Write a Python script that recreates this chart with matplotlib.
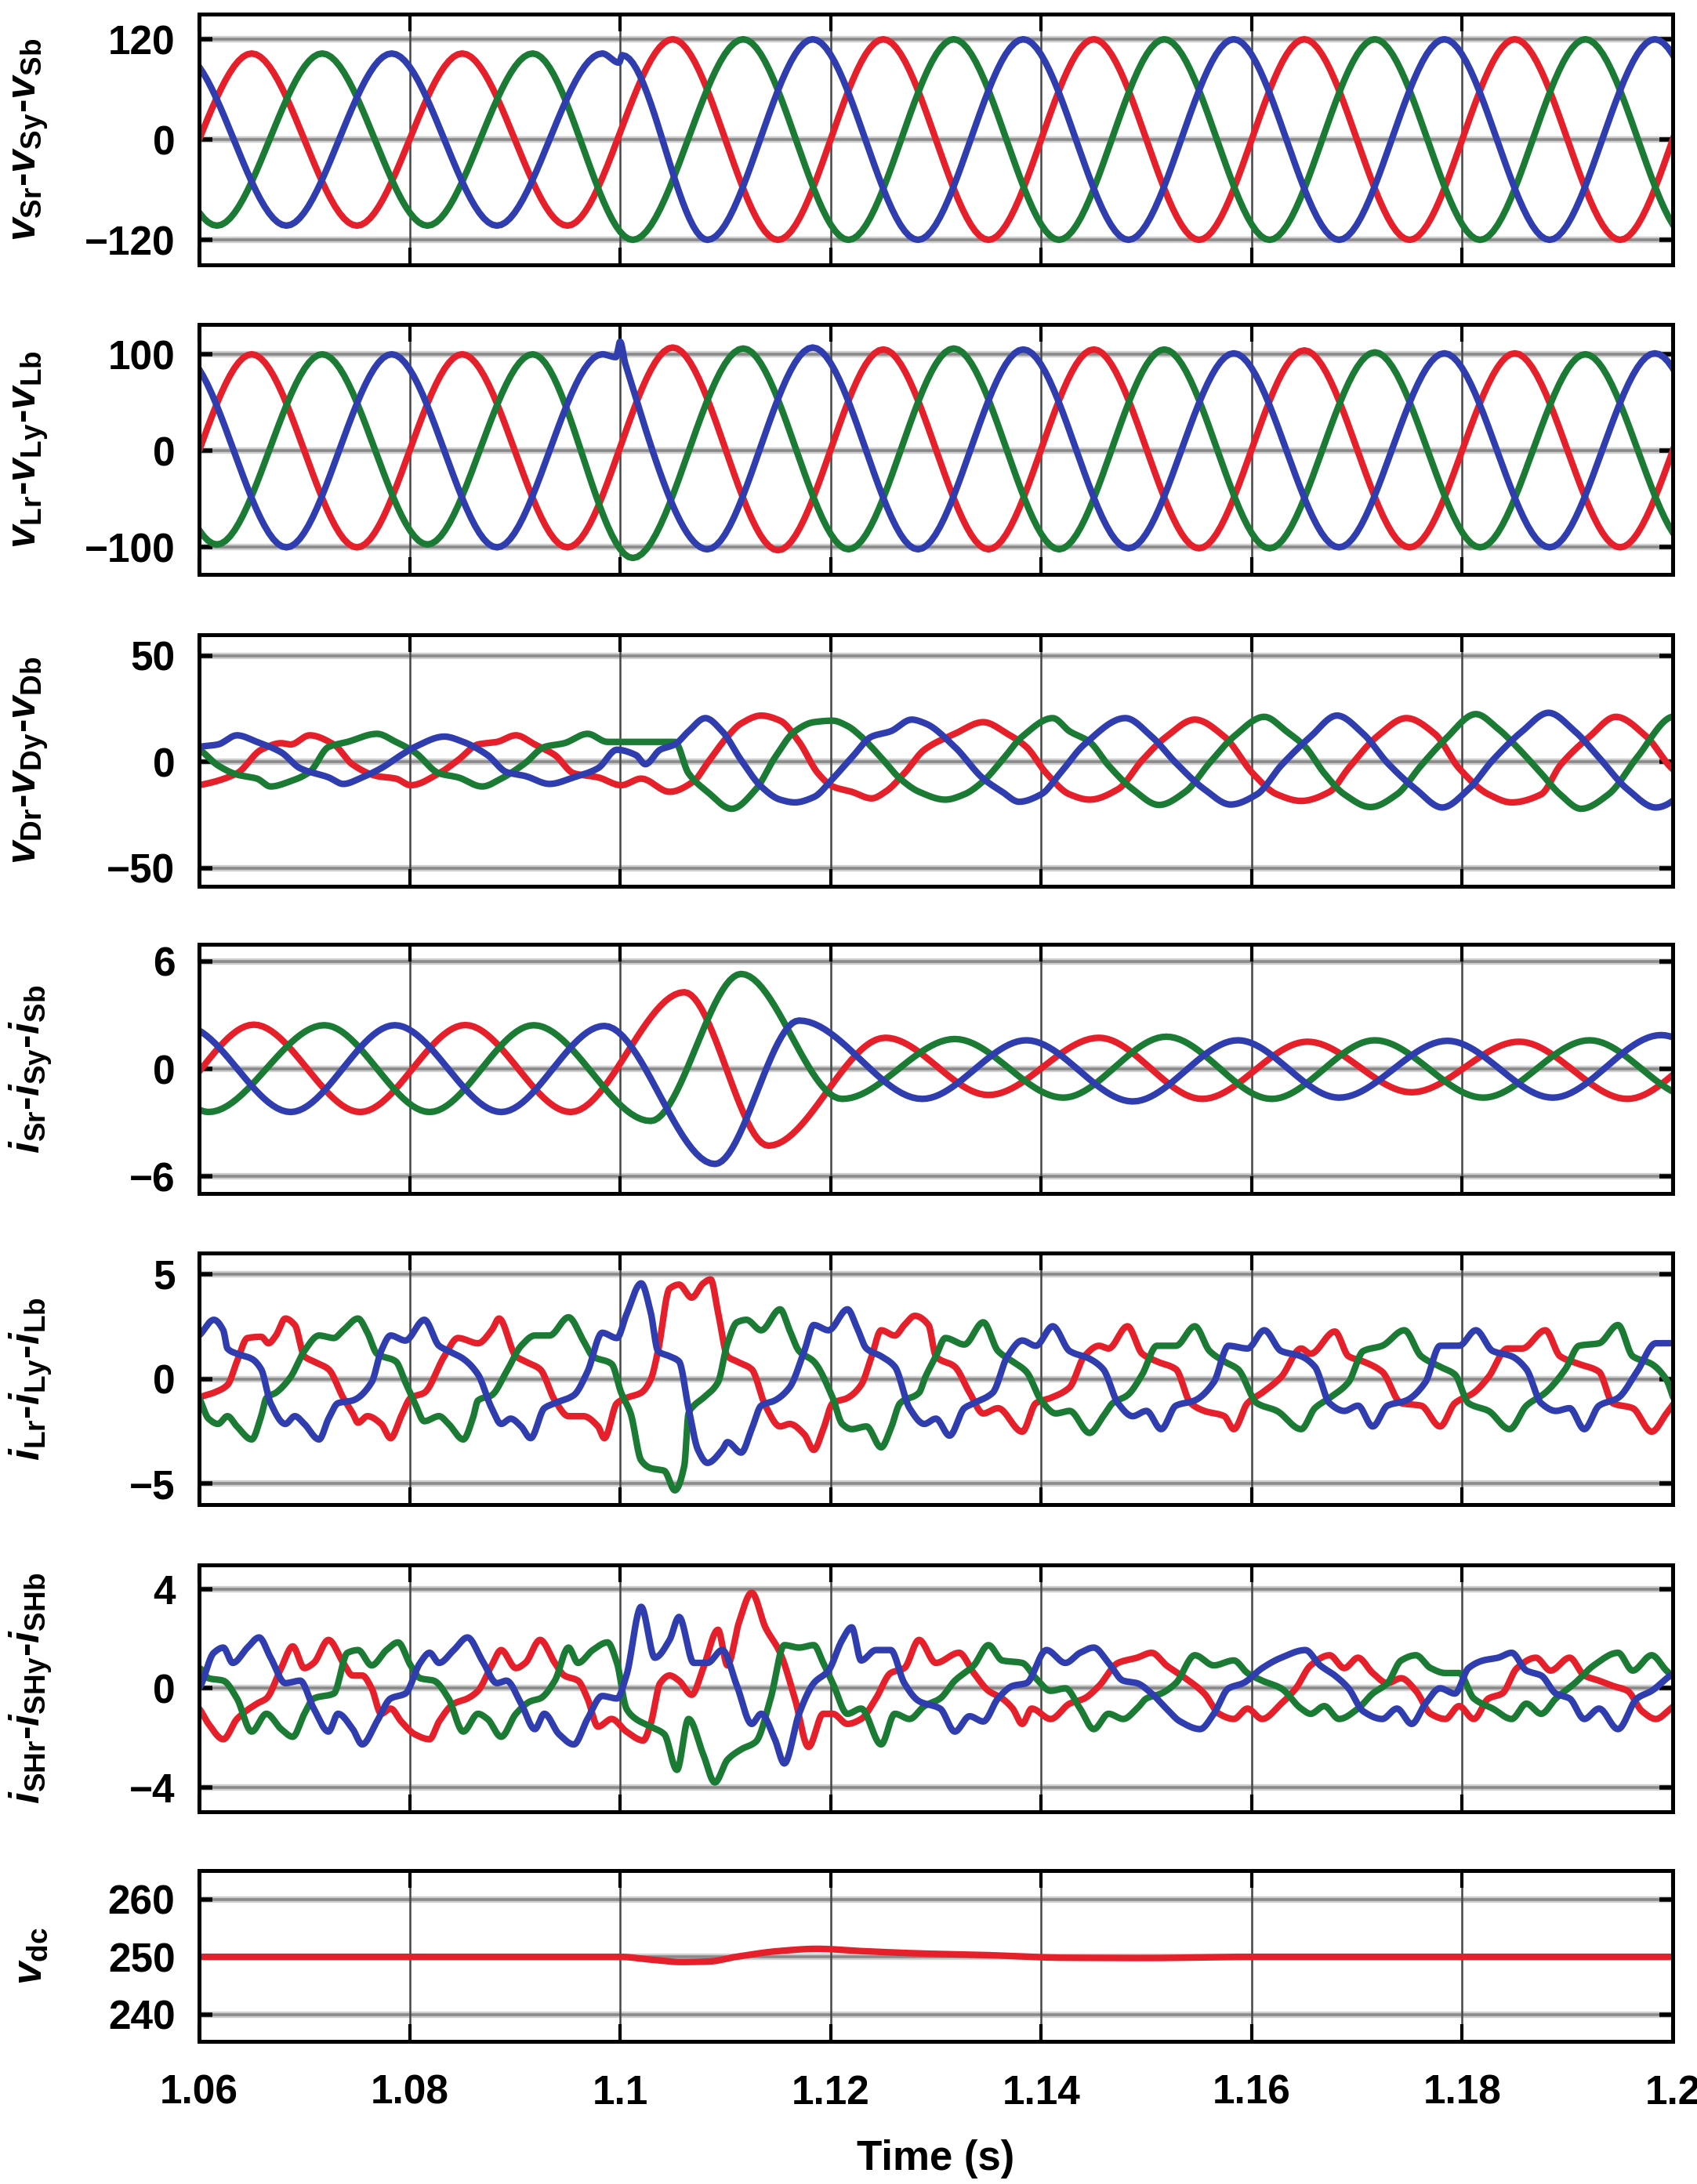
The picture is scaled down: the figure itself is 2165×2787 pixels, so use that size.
import numpy as np
import matplotlib
matplotlib.use("Agg")
import matplotlib.pyplot as plt

# ---- data (time in s, knots of each waveform) ----
# panel 1: source voltages
vs_r_t = [1.055, 1.065, 1.075, 1.085, 1.095, 1.105, 1.115, 1.125, 1.135, 1.145, 1.155, 1.165, 1.175, 1.185, 1.195, 1.205]
vs_r_v = [-103, 103, -103, 103, -103, 120, -120, 120, -120, 120, -120, 120, -120, 120, -120, 120]
vs_y_t = [1.0517, 1.0617, 1.0717, 1.0817, 1.0917, 1.1012, 1.1117, 1.1217, 1.1317, 1.1417, 1.1517, 1.1617, 1.1717, 1.1817, 1.1917, 1.2017]
vs_y_v = [103, -103, 103, -103, 103, -120, 120, -120, 120, -120, 120, -120, 120, -120, 120, -120]
vs_b_t = [1.0583, 1.0683, 1.0783, 1.0883, 1.0983, 1.0999, 1.1002, 1.1083, 1.1183, 1.1283, 1.1383, 1.1483, 1.1583, 1.1683, 1.1783, 1.1883, 1.1983, 1.2083]
vs_b_v = [103, -103, 103, -103, 103, 92, 101, -120, 120, -120, 120, -120, 120, -120, 120, -120, 120, -120]

# panel 2: load voltages
vl_r_t = vs_r_t
vl_r_v = [-100, 100, -100, 100, -100, 107, -103, 105, -102, 105, -101, 104, -100, 101, -100, 100]
vl_y_t = vs_y_t
vl_y_v = [100, -97, 100, -97, 100, -111, 106, -102, 106, -102, 105, -101, 102, -100, 100, -100]
vl_b_t = [1.0583, 1.0683, 1.0783, 1.0883, 1.0983, 1.0996, 1.1000, 1.1005, 1.1083, 1.1183, 1.1283, 1.1383, 1.1483, 1.1583, 1.1683, 1.1783, 1.1883, 1.1983, 1.2083]
vl_b_v = [100, -100, 100, -100, 100, 97, 113, 90, -102, 107, -102, 105, -101, 101, -100, 101, -100, 101, -100]

# panel 3: injected series voltages
vd_r_t = [1.0585, 1.0600, 1.0636, 1.0659, 1.0678, 1.0687, 1.0705, 1.0728, 1.0746, 1.0769, 1.0787, 1.0801, 1.0828, 1.0846,
          1.0865, 1.0883, 1.0901, 1.0919, 1.0938, 1.0956, 1.0979, 1.1001, 1.1020, 1.1047, 1.1070, 1.1083, 1.1102, 1.1115,
          1.1134, 1.1152, 1.1170, 1.1188, 1.1202, 1.1220, 1.1239, 1.1252, 1.1270, 1.1289, 1.1318, 1.1345, 1.1368, 1.1386,
          1.1405, 1.1427, 1.1446, 1.1473, 1.1496, 1.1519, 1.1546, 1.1574, 1.1601, 1.1624, 1.1647, 1.1674, 1.1692, 1.1719,
          1.1747, 1.1774, 1.1797, 1.1825, 1.1847, 1.1875, 1.1893, 1.1921, 1.1946, 1.1975, 1.1999, 1.2045]
vd_r_v = [-12, -10.9, -5.3, 5.8, 8.9, 8.3, 12.6, 8.3, -1.2, -6.6, -7.8, -10.9, -5.3, 0.9,
          8.3, 9.5, 12.6, 8.3, 3.3, -5.3, -7.2, -10.9, -7.8, -14, -9, -0.4, 12, 18.2,
          21.9, 19.5, 9.5, -5.3, -11.5, -14, -17.1, -14, -5.3, 5.8, 13.3, 18.8, 13.3, 7.1,
          -5.3, -15.2, -17.7, -12.8, 0.9, 12, 20, 12, -5.3, -15.2, -18.3, -14, -2.9, 12,
          20.7, 13.3, -2.9, -15.2, -19, -15.2, -1.6, 12, 21.3, 12, -2.9, -19]
vd_y_t = [1.0575, 1.0600, 1.0618, 1.0636, 1.0655, 1.0668, 1.0687, 1.0705, 1.0723, 1.0741, 1.0769, 1.0787, 1.0805, 1.0828,
          1.0846, 1.0869, 1.0887, 1.0910, 1.0928, 1.0947, 1.0969, 1.0988, 1.1024, 1.1052, 1.1065, 1.1083, 1.1106, 1.1129,
          1.1147, 1.1166, 1.1184, 1.1202, 1.1216, 1.1229, 1.1248, 1.1266, 1.1284, 1.1309, 1.1327, 1.1345, 1.1363, 1.1382,
          1.1411, 1.1427, 1.1446, 1.1464, 1.1487, 1.1512, 1.1537, 1.1560, 1.1583, 1.1612, 1.1633, 1.1651, 1.1669, 1.1688,
          1.1713, 1.1738, 1.1761, 1.1784, 1.1813, 1.1834, 1.1852, 1.1875, 1.1893, 1.1913, 1.1939, 1.1966, 1.1999, 1.2013, 1.2050]
vd_y_v = [10, 5.8, -1.6, -5.9, -7.8, -11.5, -9, -4.7, 7.1, 9.5, 13.3, 9.5, 4.6, -5.3,
          -7.2, -11.5, -7.8, -0.4, 7.1, 8.9, 13.3, 9.5, 9.5, 9.5, -5.3, -14, -22, -12.8,
          2.1, 14.5, 18.8, 19.5, 17, 12, 2.1, -7.8, -14, -17.7, -15.2, -9, 0.9, 12,
          20.7, 14.5, 9.5, -1.6, -12.8, -20.2, -14, -0.4, 12, 21.3, 14.5, 7.1, -5.3, -15.2,
          -21.2, -15.2, -1.6, 10.8, 22.6, 15.7, 7.1, -5.3, -15.2, -22, -15.2, 2.1, 21.3, 22.5, 5]
vd_b_t = [1.0560, 1.0600, 1.0618, 1.0636, 1.0655, 1.0678, 1.0696, 1.0723, 1.0737, 1.0755, 1.0773, 1.0792, 1.0805, 1.0833,
          1.0851, 1.0874, 1.0892, 1.0910, 1.0933, 1.0956, 1.0979, 1.0997, 1.1015, 1.1024, 1.1038, 1.1052, 1.1065, 1.1081,
          1.1097, 1.1115, 1.1134, 1.1152, 1.1166, 1.1184, 1.1202, 1.1220, 1.1239, 1.1257, 1.1277, 1.1290, 1.1318, 1.1345,
          1.1363, 1.1379, 1.1400, 1.1418, 1.1441, 1.1480, 1.1505, 1.1528, 1.1555, 1.1580, 1.1605, 1.1628, 1.1656, 1.1681,
          1.1706, 1.1729, 1.1756, 1.1781, 1.1806, 1.1829, 1.1857, 1.1882, 1.1907, 1.1930, 1.1957, 1.1984, 1.2040, 1.2082]
vd_b_v = [-5, 7.1, 8.3, 12.6, 9.5, 4.6, -2.9, -7.2, -10.3, -7.2, -2.9, 3.3, 7.1, 12,
          9.5, 3.3, -4.7, -6.6, -10.3, -7.2, -2.9, 5.8, 3.3, -1, 5.8, 8.3, 14.5, 20.7,
          14.5, 0.9, -11.5, -17.7, -19, -16.5, -7.8, 2.1, 12, 14.5, 20, 18.2, 7.1, -7.8,
          -14, -18.7, -15.2, -5.3, 8.3, 20.7, 12, -0.4, -12.8, -20, -15.2, -1.6, 12, 21.9,
          13.3, -0.4, -12.8, -21.4, -12.8, 0.9, 14.5, 23.2, 14.5, 2.1, -12.8, -21.4, 2, 23]

# panel 4: source currents
is_r_t = [1.0553, 1.0652, 1.0753, 1.0853, 1.0953, 1.1061, 1.1141, 1.1252, 1.1350, 1.1455, 1.1553, 1.1653, 1.1752, 1.1854, 1.1957, 1.2055]
is_r_v = [-2.4, 2.47, -2.4, 2.45, -2.4, 4.28, -4.28, 1.74, -1.45, 1.74, -1.67, 1.52, -1.3, 1.52, -1.67, 1.6]
is_y_t = [1.0519, 1.0609, 1.0719, 1.0819, 1.0918, 1.1029, 1.1115, 1.1211, 1.1318, 1.1421, 1.1519, 1.1619, 1.1717, 1.1820, 1.1921, 1.2020]
is_y_v = [2.4, -2.4, 2.44, -2.4, 2.44, -2.9, 5.3, -1.67, 1.67, -1.6, 1.8, -1.67, 1.6, -1.6, 1.6, -1.6]
is_b_t = [1.0586, 1.0687, 1.0786, 1.0887, 1.0985, 1.1090, 1.1170, 1.1287, 1.1386, 1.1487, 1.1587, 1.1683, 1.1786, 1.1886, 1.1989, 1.2087]
is_b_v = [2.4, -2.4, 2.44, -2.4, 2.4, -5.3, 2.7, -1.67, 1.6, -1.81, 1.6, -1.6, 1.57, -1.6, 1.89, -1.6]

# panel 5: load currents
il_r_t = [1.0582, 1.0600, 1.0614, 1.0627, 1.0636, 1.0646, 1.0659, 1.0666, 1.0673, 1.0682,
          1.0691, 1.0700, 1.0709, 1.0723, 1.0737, 1.0746, 1.0751, 1.0760, 1.0773, 1.0782,
          1.0792, 1.0801, 1.0814, 1.0833, 1.0846, 1.0865, 1.0878, 1.0885, 1.0901, 1.0910,
          1.0924, 1.0938, 1.0951, 1.0965, 1.0979, 1.0985, 1.0997, 1.1006, 1.1020, 1.1029,
          1.1036, 1.1047, 1.1056, 1.1068, 1.1079, 1.1086, 1.1093, 1.1102, 1.1111, 1.1125,
          1.1138, 1.1152, 1.1161, 1.1175, 1.1184, 1.1193, 1.1202, 1.1216, 1.1229, 1.1239,
          1.1248, 1.1261, 1.1270, 1.1280, 1.1293, 1.1300, 1.1318, 1.1332, 1.1345, 1.1359,
          1.1382, 1.1395, 1.1409, 1.1427, 1.1441, 1.1455, 1.1464, 1.1482, 1.1496, 1.1510,
          1.1528, 1.1542, 1.1555, 1.1574, 1.1583, 1.1596, 1.1610, 1.1628, 1.1647, 1.1656,
          1.1679, 1.1692, 1.1706, 1.1724, 1.1742, 1.1761, 1.1779, 1.1793, 1.1811, 1.1825,
          1.1843, 1.1857, 1.1879, 1.1893, 1.1911, 1.1930, 1.1943, 1.1962, 1.1980, 1.1994,
          1.2003, 1.2030]
il_r_v = [-2.8, -0.91, -0.66, -0.29, 0.83, 1.95, 2.01, 1.70, 2.07, 2.88,
          2.57, 1.08, 0.83, 0.46, -0.91, -1.65, -2.09, -1.78, -2.15, -2.83,
          -1.78, -0.91, -0.66, 1.08, 1.95, 1.70, 2.32, 2.88, 1.08, 0.83,
          0.46, -1.03, -1.78, -1.78, -2.27, -2.83, -1.16, -0.91, -0.66, -0.04,
          1.33, 4.31, 4.50, 3.88, 4.56, 4.75, 3.19, 1.08, 0.83, 0.46,
          -1.28, -2.27, -2.15, -2.65, -3.39, -2.40, -1.16, -0.91, -0.29, 1.08,
          2.32, 2.07, 2.57, 3.01, 2.57, 1.08, 0.58, -0.66, -1.65, -1.40,
          -2.52, -1.16, -0.91, -0.41, 1.08, 1.58, 1.45, 2.51, 1.20, 0.83,
          0.46, -1.16, -1.53, -1.78, -2.40, -1.16, -0.66, 0.09, 1.45, 1.20,
          2.26, 1.08, 0.83, 0.34, -1.16, -1.28, -2.27, -1.16, -0.66, 0.09,
          1.45, 1.45, 2.32, 1.08, 0.71, 0.34, -1.16, -1.40, -2.52, -1.65,
          -1.03, 1.0]
il_y_t = [1.0551, 1.0575, 1.0600, 1.0609, 1.0618, 1.0627, 1.0636, 1.0650, 1.0659, 1.0664,
          1.0673, 1.0687, 1.0700, 1.0714, 1.0728, 1.0737, 1.0751, 1.0760, 1.0769, 1.0787,
          1.0796, 1.0805, 1.0814, 1.0828, 1.0837, 1.0851, 1.0860, 1.0865, 1.0878, 1.0892,
          1.0906, 1.0919, 1.0933, 1.0951, 1.0965, 1.0974, 1.0992, 1.1001, 1.1010, 1.1020,
          1.1029, 1.1042, 1.1052, 1.1061, 1.1065, 1.1070, 1.1079, 1.1093, 1.1102, 1.1111,
          1.1120, 1.1134, 1.1152, 1.1161, 1.1170, 1.1184, 1.1202, 1.1211, 1.1220, 1.1234,
          1.1248, 1.1257, 1.1266, 1.1284, 1.1290, 1.1300, 1.1309, 1.1327, 1.1345, 1.1359,
          1.1373, 1.1386, 1.1400, 1.1414, 1.1427, 1.1446, 1.1459, 1.1468, 1.1482, 1.1496,
          1.1510, 1.1528, 1.1546, 1.1560, 1.1574, 1.1587, 1.1605, 1.1624, 1.1647, 1.1660,
          1.1674, 1.1692, 1.1706, 1.1724, 1.1745, 1.1761, 1.1779, 1.1793, 1.1806, 1.1825,
          1.1845, 1.1861, 1.1879, 1.1898, 1.1911, 1.1930, 1.1948, 1.1962, 1.1980, 1.1994,
          1.2003, 1.2030]
il_y_v = [2.9, 0.8, -0.91, -1.90, -2.15, -1.78, -2.27, -2.89, -1.78, -0.91,
          -0.66, 0.09, 1.33, 2.07, 1.95, 2.32, 2.88, 2.20, 1.20, 0.83,
          -0.16, -1.16, -2.02, -1.78, -2.15, -2.89, -1.90, -1.03, -0.78, 0.34,
          1.58, 2.07, 2.07, 2.94, 1.83, 1.08, 0.71, -0.66, -1.65, -3.89,
          -4.26, -4.39, -5.32, -4.14, -1.65, -1.28, -0.91, -0.16, 1.70, 2.70,
          2.82, 2.32, 3.32, 2.32, 1.33, 0.83, -0.91, -2.15, -2.40, -2.27,
          -3.27, -2.40, -1.16, -0.66, 0.09, 1.08, 1.95, 1.64, 2.70, 1.33,
          0.83, 0.34, -1.03, -1.65, -1.53, -2.58, -1.78, -1.16, -0.78, 0.21,
          1.58, 1.58, 2.51, 1.33, 0.83, 0.46, -1.16, -1.53, -2.40, -1.40,
          -0.91, -0.16, 1.33, 1.58, 2.32, 1.08, 0.58, 0.21, -1.16, -1.53,
          -2.40, -1.28, -0.66, 0.46, 1.58, 1.70, 2.57, 1.08, 0.71, -0.04,
          -1.16, -2.3]
il_b_t = [1.0573, 1.0600, 1.0614, 1.0623, 1.0627, 1.0636, 1.0650, 1.0659, 1.0668, 1.0682,
          1.0691, 1.0700, 1.0714, 1.0723, 1.0732, 1.0746, 1.0764, 1.0773, 1.0782, 1.0796,
          1.0814, 1.0828, 1.0837, 1.0851, 1.0865, 1.0878, 1.0887, 1.0896, 1.0906, 1.0915,
          1.0928, 1.0938, 1.0956, 1.0969, 1.0983, 1.0997, 1.1006, 1.1020, 1.1029, 1.1036,
          1.1047, 1.1056, 1.1065, 1.1074, 1.1083, 1.1097, 1.1102, 1.1115, 1.1125, 1.1134,
          1.1147, 1.1161, 1.1175, 1.1184, 1.1198, 1.1216, 1.1225, 1.1234, 1.1248, 1.1261,
          1.1275, 1.1289, 1.1300, 1.1313, 1.1327, 1.1336, 1.1354, 1.1368, 1.1382, 1.1395,
          1.1411, 1.1427, 1.1446, 1.1459, 1.1473, 1.1487, 1.1500, 1.1514, 1.1528, 1.1546,
          1.1564, 1.1578, 1.1596, 1.1612, 1.1628, 1.1647, 1.1660, 1.1674, 1.1688, 1.1701,
          1.1715, 1.1729, 1.1747, 1.1765, 1.1779, 1.1797, 1.1813, 1.1829, 1.1847, 1.1861,
          1.1875, 1.1889, 1.1902, 1.1916, 1.1930, 1.1948, 1.1966, 1.1984, 1.1998, 1.2020]
il_b_v = [1.2, 2.07, 2.82, 2.32, 1.45, 1.20, 0.96, 0.46, -1.16, -2.15,
          -1.78, -2.15, -2.89, -1.90, -1.16, -1.03, -0.16, 1.33, 2.07, 1.83,
          2.82, 1.58, 1.33, 0.96, 0.21, -1.40, -2.15, -1.90, -2.27, -2.83,
          -1.40, -1.16, -0.78, 0.34, 2.20, 1.95, 3.07, 4.56, 3.19, 1.33,
          1.08, 0.83, -1.40, -3.39, -4.01, -3.39, -3.02, -3.52, -2.40, -1.28,
          -1.03, -0.41, 1.33, 2.57, 2.32, 3.32, 2.45, 1.45, 1.08, 0.58,
          -1.40, -2.15, -1.90, -2.71, -1.40, -1.16, -0.66, 1.08, 1.83, 1.58,
          2.51, 1.33, 0.96, 0.46, -1.16, -1.78, -1.53, -2.40, -1.28, -1.03,
          -0.16, 1.58, 1.45, 2.32, 1.33, 1.08, 0.58, -1.16, -1.53, -1.28,
          -2.27, -1.28, -1.03, -0.16, 1.58, 1.58, 2.32, 1.33, 1.08, 0.46,
          -1.16, -1.53, -1.40, -2.40, -1.28, -0.91, 0.34, 1.70, 1.70, 2.4]

# panel 6: shunt compensator currents
ish_r_t = [1.0565, 1.0600, 1.0609, 1.0623, 1.0636, 1.0655, 1.0664, 1.0678, 1.0689, 1.0700,
           1.0709, 1.0723, 1.0737, 1.0746, 1.0755, 1.0764, 1.0773, 1.0782, 1.0792, 1.0805,
           1.0819, 1.0828, 1.0842, 1.0855, 1.0865, 1.0878, 1.0887, 1.0901, 1.0910, 1.0924,
           1.0938, 1.0947, 1.0960, 1.0969, 1.0979, 1.0992, 1.1006, 1.1022, 1.1029, 1.1038,
           1.1047, 1.1056, 1.1068, 1.1079, 1.1093, 1.1102, 1.1113, 1.1125, 1.1138, 1.1152,
           1.1166, 1.1179, 1.1193, 1.1202, 1.1216, 1.1229, 1.1243, 1.1257, 1.1270, 1.1284,
           1.1300, 1.1322, 1.1336, 1.1350, 1.1363, 1.1373, 1.1382, 1.1391, 1.1409, 1.1427,
           1.1441, 1.1455, 1.1473, 1.1491, 1.1505, 1.1519, 1.1537, 1.1555, 1.1569, 1.1583,
           1.1596, 1.1610, 1.1628, 1.1642, 1.1656, 1.1674, 1.1688, 1.1701, 1.1715, 1.1729,
           1.1742, 1.1756, 1.1770, 1.1784, 1.1797, 1.1811, 1.1825, 1.1838, 1.1852, 1.1870,
           1.1884, 1.1902, 1.1916, 1.1930, 1.1943, 1.1957, 1.1971, 1.1984, 1.1998, 1.2030]
ish_r_v = [0.3, -0.82, -1.44, -2.06, -1.24, -0.62, -0.41, 0.82, 1.70, 0.82,
           1.03, 1.96, 1.03, 0.52, 0.52, 0.00, -1.03, -0.82, -1.34, -1.86,
           -2.06, -1.34, -0.62, -0.41, -0.10, 0.93, 1.55, 0.82, 1.03, 1.96,
           1.03, 0.52, 0.31, -0.41, -1.55, -1.24, -1.75, -2.11, -1.44, 0.21,
           0.52, 0.31, -0.26, 0.82, 2.37, 0.93, 2.68, 3.87, 2.47, 1.44,
           -0.41, -2.37, -1.03, -1.03, -1.44, -1.24, -0.41, 0.62, 0.82, 1.96,
           1.03, 1.44, 0.62, -0.10, -0.41, -0.82, -1.44, -0.82, -1.24, -0.62,
           -0.41, 0.10, 1.03, 1.24, 1.44, 0.93, 0.41, -0.21, -1.03, -1.24,
           -0.82, -1.24, -0.62, 0.00, 0.93, 1.34, 0.82, 1.24, 0.62, 0.21,
           0.41, -0.10, -1.03, -1.24, -0.72, -1.24, -0.41, -0.21, 0.82, 1.24,
           0.72, 1.24, 0.52, 0.31, 0.10, -0.10, -0.93, -1.24, -0.82, 0.3]
ish_y_t = [1.0560, 1.0600, 1.0609, 1.0623, 1.0636, 1.0650, 1.0664, 1.0678, 1.0689, 1.0700,
           1.0709, 1.0728, 1.0741, 1.0751, 1.0764, 1.0778, 1.0789, 1.0801, 1.0810, 1.0823,
           1.0837, 1.0851, 1.0865, 1.0874, 1.0887, 1.0901, 1.0915, 1.0924, 1.0938, 1.0951,
           1.0960, 1.0974, 1.0988, 1.0997, 1.1006, 1.1015, 1.1029, 1.1042, 1.1054, 1.1065,
           1.1079, 1.1090, 1.1102, 1.1115, 1.1129, 1.1143, 1.1156, 1.1170, 1.1184, 1.1193,
           1.1202, 1.1216, 1.1229, 1.1248, 1.1261, 1.1275, 1.1289, 1.1304, 1.1318, 1.1336,
           1.1350, 1.1363, 1.1382, 1.1395, 1.1409, 1.1423, 1.1437, 1.1450, 1.1464, 1.1478,
           1.1491, 1.1500, 1.1514, 1.1528, 1.1546, 1.1564, 1.1583, 1.1596, 1.1610, 1.1628,
           1.1647, 1.1656, 1.1669, 1.1683, 1.1701, 1.1715, 1.1729, 1.1742, 1.1756, 1.1770,
           1.1784, 1.1797, 1.1811, 1.1829, 1.1847, 1.1861, 1.1875, 1.1889, 1.1907, 1.1925,
           1.1948, 1.1962, 1.1980, 1.1994, 1.2030]
ish_y_v = [-1.5, 0.82, 0.41, 0.31, -0.41, -1.75, -1.03, -1.65, -1.96, -1.03,
           -0.41, -0.21, 1.44, 1.55, 0.93, 1.55, 1.86, 0.93, 0.41, 0.31,
           -0.41, -1.75, -1.03, -1.24, -1.96, -1.03, -0.52, -0.41, 0.31, 1.65,
           1.03, 1.55, 1.86, 1.03, -0.82, -1.24, -1.55, -1.86, -3.30, -1.24,
           -2.68, -3.81, -2.89, -2.47, -2.16, -0.41, 1.75, 1.65, 1.75, 1.03,
           0.21, -1.03, -0.82, -2.27, -1.03, -1.24, -0.72, -0.41, 0.31, 0.93,
           1.75, 1.13, 1.03, 0.41, -0.10, 0.00, -0.82, -1.65, -1.03, -1.24,
           -0.82, -0.41, -0.21, 0.21, 1.34, 0.93, 1.13, 0.62, 0.31, 0.00,
           -0.82, -1.03, -0.72, -1.24, -0.82, -0.21, 0.21, 1.13, 1.34, 0.82,
           0.62, 0.62, -0.41, -0.82, -1.24, -0.62, -1.03, -0.41, 0.21, 0.93,
           1.44, 0.72, 1.34, 0.72, -0.5]
ish_b_t = [1.0570, 1.0600, 1.0614, 1.0623, 1.0632, 1.0646, 1.0657, 1.0668, 1.0682, 1.0696,
           1.0709, 1.0723, 1.0732, 1.0746, 1.0755, 1.0769, 1.0782, 1.0796, 1.0810, 1.0819,
           1.0828, 1.0842, 1.0855, 1.0869, 1.0883, 1.0892, 1.0906, 1.0919, 1.0928, 1.0942,
           1.0956, 1.0969, 1.0983, 1.0997, 1.1006, 1.1020, 1.1033, 1.1047, 1.1056, 1.1070,
           1.1083, 1.1097, 1.1111, 1.1125, 1.1134, 1.1147, 1.1156, 1.1170, 1.1184, 1.1198,
           1.1211, 1.1220, 1.1229, 1.1243, 1.1257, 1.1270, 1.1284, 1.1304, 1.1318, 1.1332,
           1.1345, 1.1359, 1.1373, 1.1386, 1.1405, 1.1423, 1.1437, 1.1450, 1.1464, 1.1478,
           1.1491, 1.1505, 1.1519, 1.1532, 1.1551, 1.1564, 1.1578, 1.1592, 1.1610, 1.1628,
           1.1651, 1.1665, 1.1679, 1.1692, 1.1706, 1.1724, 1.1738, 1.1752, 1.1765, 1.1779,
           1.1793, 1.1806, 1.1820, 1.1834, 1.1847, 1.1861, 1.1875, 1.1889, 1.1902, 1.1916,
           1.1930, 1.1948, 1.1966, 1.1980, 1.1998, 1.2030]
ish_b_v = [-1.0, 0.00, 1.44, 1.65, 1.03, 1.65, 2.06, 1.24, 0.21, 0.31,
           -0.82, -1.75, -1.03, -1.65, -2.27, -1.34, -0.41, -0.21, 1.03, 1.44,
           1.03, 1.55, 2.06, 1.13, 0.21, 0.31, -0.62, -1.65, -1.03, -1.86,
           -2.27, -1.24, -0.31, -0.41, 0.52, 3.30, 1.24, 1.96, 2.89, 1.03,
           1.03, 1.55, 0.10, -1.44, -1.03, -2.06, -3.04, -1.03, 0.21, 0.72,
           1.96, 2.47, 1.13, 1.55, 1.55, 0.21, -0.52, -0.82, -1.75, -1.13,
           -1.34, -0.41, 0.10, 0.21, 1.55, 1.03, 1.44, 1.65, 1.03, 0.31,
           0.21, -0.21, -0.82, -1.34, -1.65, -1.03, 0.00, 0.21, 0.82, 1.24,
           1.55, 0.93, 0.52, 0.00, -0.93, -1.24, -0.82, -1.44, -0.62, 0.00,
           -0.21, 0.82, 1.13, 1.24, 1.44, 0.72, 0.52, -0.21, -0.41, -1.24,
           -0.82, -1.65, -0.41, -0.10, 0.52, 1.2]

# panel 7: dc-link voltage
vdc_t = [1.06, 1.1000, 1.1030, 1.1058, 1.1085, 1.1110, 1.1150, 1.1187, 1.1230, 1.1284, 1.1350, 1.1420, 1.1500, 1.1600, 1.2]
vdc_v = [250, 250, 249.5, 249.1, 249.2, 250, 251.0, 251.4, 251.0, 250.6, 250.3, 249.85, 249.8, 250, 250]

x_ticks = [1.06, 1.08, 1.1, 1.12, 1.14, 1.16, 1.18, 1.2]
x_ticklabels = ["1.06", "1.08", "1.1", "1.12", "1.14", "1.16", "1.18", "1.2"]

RED, GREEN, BLUE = "#e5202a", "#1b7a33", "#2f3daf"
FONT = "Liberation Sans"

plt.rcParams["font.family"] = [FONT, "DejaVu Sans"]
plt.rcParams["font.weight"] = "bold"
plt.rcParams["mathtext.fontset"] = "custom"
plt.rcParams["mathtext.rm"] = FONT
plt.rcParams["mathtext.it"] = FONT + ":italic"
plt.rcParams["mathtext.bf"] = FONT + ":bold"
plt.rcParams["mathtext.bfit"] = FONT + ":bold:italic"


def pchip(tk, vk, n=24):
    """Smooth monotone curve through the read knots."""
    tk = np.asarray(tk, float)
    vk = np.asarray(vk, float)
    assert len(tk) == len(vk), (len(tk), len(vk))
    h = np.diff(tk)
    d = np.diff(vk) / h
    m = np.zeros_like(vk)
    for i in range(1, len(vk) - 1):
        if d[i - 1] * d[i] > 0:
            w1 = 2 * h[i] + h[i - 1]
            w2 = h[i] + 2 * h[i - 1]
            m[i] = (w1 + w2) / (w1 / d[i - 1] + w2 / d[i])
    s = np.linspace(0, 1, n, endpoint=False)
    h00 = 2 * s**3 - 3 * s**2 + 1
    h10 = s**3 - 2 * s**2 + s
    h01 = -2 * s**3 + 3 * s**2
    h11 = s**3 - s**2
    ts, vs = [], []
    for i in range(len(h)):
        ts.append(tk[i] + s * h[i])
        vs.append(h00 * vk[i] + h10 * h[i] * m[i] + h01 * vk[i + 1] + h11 * h[i] * m[i + 1])
    ts.append([tk[-1]])
    vs.append([vk[-1]])
    return np.concatenate(ts), np.concatenate(vs)


def lbl(sym, sub):
    return "-".join(r"$\mathbfit{%s}_{\mathbf{%s%s}}$" % (sym, sub, ph) for ph in "ryb")


panels = [
    (lbl("v", "S"), (-150, 150), [-120, 0, 120],
     [(vs_r_t, vs_r_v), (vs_y_t, vs_y_v), (vs_b_t, vs_b_v)], (0.8787, 0.1148)),
    (lbl("v", "L"), (-128, 131), [-100, 0, 100],
     [(vl_r_t, vl_r_v), (vl_y_t, vl_y_v), (vl_b_t, vl_b_v)], (0.7370, 0.1145)),
    (lbl("v", "D"), (-58.5, 60), [-50, 0, 50],
     [(vd_r_t, vd_r_v), (vd_y_t, vd_y_v), (vd_b_t, vd_b_v)], (0.5942, 0.1152)),
    (lbl("i", "S"), (-6.95, 6.95), [-6, 0, 6],
     [(is_r_t, is_r_v), (is_y_t, is_y_v), (is_b_t, is_b_v)], (0.4535, 0.1141)),
    (lbl("i", "L"), (-6.0, 6.0), [-5, 0, 5],
     [(il_r_t, il_r_v), (il_y_t, il_y_v), (il_b_t, il_b_v)], (0.3111, 0.1151)),
    (lbl("i", "SH"), (-5.0, 5.0), [-4, 0, 4],
     [(ish_r_t, ish_r_v), (ish_y_t, ish_y_v), (ish_b_t, ish_b_v)], (0.1704, 0.1131)),
    (r"$\mathbfit{v}_{\mathbf{dc}}$", (235.3, 265), [240, 250, 260],
     [(vdc_t, vdc_v)], (0.0653, 0.0782)),
]

fig = plt.figure(figsize=(21.65, 27.87), dpi=100)
LEFT, WIDTH = 0.1173, 0.8684

for k, (label, ylim, yticks, series, (bottom, height)) in enumerate(panels):
    ax = fig.add_axes([LEFT, bottom, WIDTH, height])
    last = k == len(panels) - 1

    for y in yticks:
        ax.axhline(y, color="#cfcfcf", lw=6, zorder=1)
        ax.axhline(y, color="#8a8a8a", lw=2.6, zorder=1)
    for x in x_ticks[1:-1]:
        ax.axvline(x, color="#454545", lw=1.8, zorder=1)

    for (t, v), c in zip(series, [RED, GREEN, BLUE]):
        tt, vv = pchip(t, v)
        ax.plot(tt, vv, color=c, lw=6, solid_capstyle="round",
                solid_joinstyle="round", zorder=3)

    ax.set_xlim(1.06, 1.2)
    ax.set_ylim(*ylim)
    ax.set_yticks(yticks)
    ax.set_xticks(x_ticks)
    if last:
        ax.set_xticklabels(x_ticklabels)
    else:
        ax.set_xticklabels([])
    ax.tick_params(axis="y", direction="in", length=12, width=4, left=True, right=True,
                   labelsize=37, pad=22)
    ax.tick_params(axis="x", direction="in", length=16, width=3, top=True, bottom=True,
                   labelsize=37, pad=30)
    for lab in ax.get_xticklabels() + ax.get_yticklabels():
        lab.set_fontweight("bold")
    for sp in ax.spines.values():
        sp.set_linewidth(3.6)
        sp.set_zorder(5)

    fig.text(0.018, bottom + height / 2, label, rotation=90, ha="center", va="center",
             fontsize=38, fontweight="bold")

fig.text(LEFT + WIDTH / 2, 0.0115, "Time (s)", ha="center", va="center",
         fontsize=38, fontweight="bold")

fig.savefig("out.png", dpi=100)
